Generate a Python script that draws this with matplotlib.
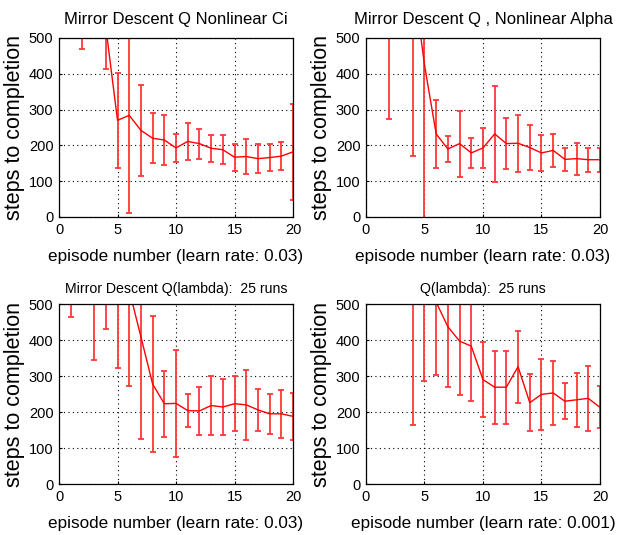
import matplotlib
matplotlib.use("Agg")
import matplotlib.pyplot as plt

plt.rcParams['font.family'] = ['Liberation Sans', 'DejaVu Sans']

episodes = list(range(1, 21))

# Mirror Descent Q Nonlinear Ci
mean_ci = [900, 700, 800, 530, 270, 284, 242, 220, 215, 193, 211, 205, 192, 188, 167, 169, 163, 166, 170, 182]
err_ci = [300, 230, 250, 116, 133, 273, 128, 70, 70, 38, 51, 42, 38, 40, 38, 48, 40, 38, 40, 134]

# Mirror Descent Q , Nonlinear Alpha
mean_alpha = [900, 800, 850, 675, 425, 232, 190, 205, 179, 193, 232, 205, 206, 194, 179, 186, 161, 163, 160, 160]
err_alpha = [350, 526, 300, 504, 450, 96, 35, 92, 42, 56, 133, 72, 80, 62, 51, 45, 33, 45, 34, 34]

# Mirror Descent Q(lambda): 25 runs
mean_mdl = [900, 850, 800, 700, 750, 539, 409, 278, 223, 224, 204, 203, 218, 214, 223, 220, 206, 195, 195, 188]
err_mdl = [435, 300, 456, 268, 429, 266, 283, 190, 91, 149, 45, 66, 81, 78, 76, 98, 58, 55, 66, 66]

# Q(lambda): 25 runs
mean_ql = [900, 850, 800, 600, 550, 505, 437, 397, 383, 290, 269, 269, 326, 226, 249, 253, 230, 234, 238, 213]
err_ql = [350, 300, 250, 437, 263, 202, 168, 151, 152, 104, 101, 101, 100, 80, 98, 90, 50, 75, 90, 58]

panels = [
    ("Mirror Descent Q Nonlinear Ci", 12, 10, mean_ci, err_ci, "episode number (learn rate: 0.03)"),
    ("Mirror Descent Q , Nonlinear Alpha", 12, 10, mean_alpha, err_alpha, "episode number (learn rate: 0.03)"),
    ("Mirror Descent Q(lambda):  25 runs", 10.2, 8, mean_mdl, err_mdl, "episode number (learn rate: 0.03)"),
    ("Q(lambda):  25 runs", 10.2, 8, mean_ql, err_ql, "episode number (learn rate: 0.001)"),
]

positions = [
    [0.0955, 0.5944, 0.3786, 0.3346],
    [0.5922, 0.5944, 0.3786, 0.3346],
    [0.0955, 0.0953, 0.3786, 0.3364],
    [0.5922, 0.0953, 0.3786, 0.3364],
]

fig = plt.figure(figsize=(6.18, 5.35), dpi=100)

for pos, (title, tsize, tpad, means, errs, xlab) in zip(positions, panels):
    ax = fig.add_axes(pos)
    ax.errorbar(episodes, means, yerr=errs, color="red", ecolor="#ff3838",
                elinewidth=1.3, capsize=2.5, capthick=1.3, linewidth=1.0)
    ax.set_xlim(0, 20)
    ax.set_ylim(0, 500)
    ax.set_xticks([0, 5, 10, 15, 20])
    ax.set_yticks([0, 100, 200, 300, 400, 500])
    ax.grid(True, color="black", linestyle=(0, (1, 3)), linewidth=0.8)
    ax.tick_params(direction="in", labelsize=10.5, length=2, pad=4)
    for s in ax.spines.values():
        s.set_linewidth(0.9)
    ax.set_title(title, fontsize=tsize, pad=tpad)
    ax.set_xlabel(xlab, fontsize=12.3, labelpad=9)
    ax.set_ylabel("steps to completion", fontsize=15.5, labelpad=3)

fig.savefig("out.png", dpi=100)
